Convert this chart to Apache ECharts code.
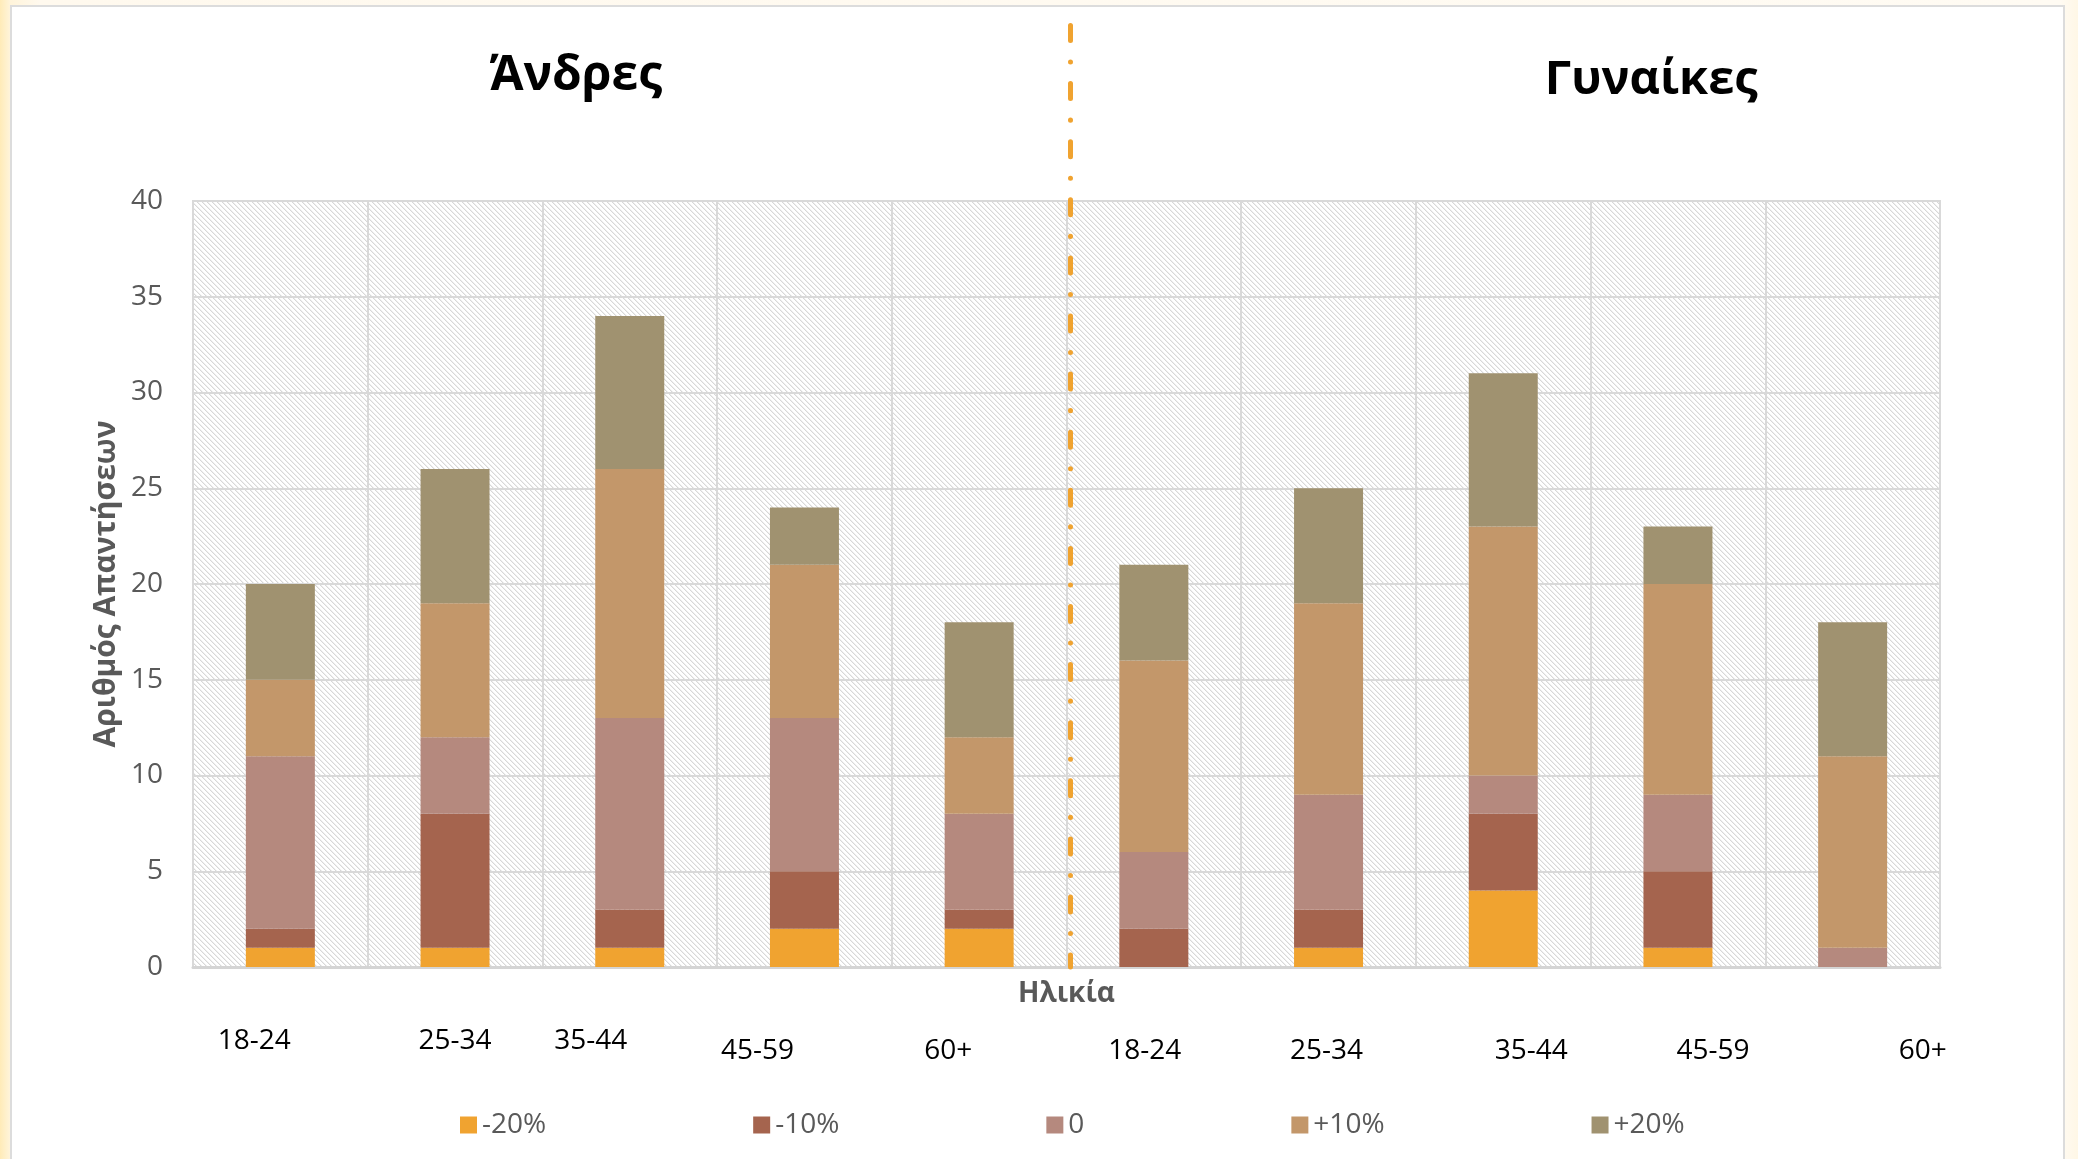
<!DOCTYPE html>
<html>
<head>
<meta charset="utf-8">
<script src="https://cdn.jsdelivr.net/npm/echarts@6/dist/echarts.min.js"></script>
<style>
  html, body { margin: 0; padding: 0; width: 2078px; height: 1159px; overflow: hidden; }
  body { background: linear-gradient(to right, #FFEBB8 0px, #FFF4DA 10px, #FFF9EE 40px, #FFFBF3 2060px, #FFF7E6 2078px); }
  #panel { position: absolute; left: 10px; top: 5px; width: 2051px; height: 1170px; background: #fff; border: 2px solid #dcdcdc; }
  #chart { position: absolute; left: 0; top: 0; width: 2078px; height: 1159px; }
</style>
</head>
<body>
<div id="panel"></div>
<div id="chart"></div>
<script>
// ---- data ----
const groupTitles = ['Άνδρες', 'Γυναίκες'];
const ageLabels = ['18-24', '25-34', '35-44', '45-59', '60+', '18-24', '25-34', '35-44', '45-59', '60+'];
const categories = ['Α 18-24', 'Α 25-34', 'Α 35-44', 'Α 45-59', 'Α 60+', 'Γ 18-24', 'Γ 25-34', 'Γ 35-44', 'Γ 45-59', 'Γ 60+'];
const seriesNames = ['-20%', '-10%', '0', '+10%', '+20%'];
const neg20 = [1, 1, 1, 2, 2, 0, 1, 4, 1, 0];
const neg10 = [1, 7, 2, 3, 1, 2, 2, 4, 4, 0];
const zero  = [9, 4, 10, 8, 5, 4, 6, 2, 4, 1];
const pos10 = [4, 7, 13, 8, 4, 10, 10, 13, 11, 10];
const pos20 = [5, 7, 8, 3, 6, 5, 6, 8, 3, 7];
const yTicks = { min: 0, max: 40, interval: 5 };
const yAxisName = 'Αριθμός Απαντήσεων';
const xAxisName = 'Ηλικία';

// ---- style ----
const colors = ['#F0A330', '#A5644E', '#B5897E', '#C3976A', '#A09270'];
const FONT = '"Open Sans", "Noto Sans", "DejaVu Sans", sans-serif';
// label shifts (layout only): [dx, dy]
const labelShift = [[-26, 0], [0, 0], [-39, 0], [-47, 10], [-31, 10], [-9, 10], [-2, 10], [28, 10], [35, 10], [70, 10]];

// hatch pattern for the plot area
const tile = document.createElement('canvas');
tile.width = 5; tile.height = 5;
const tc = tile.getContext('2d');
tc.fillStyle = '#ffffff'; tc.fillRect(0, 0, 5, 5);
tc.fillStyle = '#d8d8d8';
for (let i = 0; i < 5; i++) { tc.fillRect(i, i, 1, 1); }
tc.fillStyle = '#efefef';
for (let i = 0; i < 5; i++) { tc.fillRect((i + 1) % 5, i, 1, 1); }

const rich = {};
labelShift.forEach(([dx, dy], i) => {
  rich['s' + i] = {
    fontSize: 28, fontFamily: FONT, color: '#000',
    padding: [dy, dx < 0 ? -2 * dx : 0, 0, dx > 0 ? 2 * dx : 0]
  };
});

const chart = echarts.init(document.getElementById('chart'), null, { renderer: 'canvas' });
const dataArrays = [neg20, neg10, zero, pos10, pos20];

chart.setOption({
  backgroundColor: 'transparent',
  animation: false,
  textStyle: { fontFamily: FONT },
  grid: {
    left: 193, right: 138, top: 201, bottom: 192,
    show: true,
    backgroundColor: { image: tile, repeat: 'repeat' },
    borderColor: '#d9d9d9', borderWidth: 2
  },
  legend: {
    data: seriesNames,
    left: 455, top: 1106,
    itemWidth: 17, itemHeight: 17, itemGap: 207,
    icon: 'rect',
    textStyle: { fontSize: 28, color: '#595959', fontFamily: FONT }
  },
  xAxis: {
    type: 'category',
    data: categories,
    name: xAxisName,
    nameLocation: 'middle',
    nameGap: 13,
    nameMoveOverlap: false,
    nameTextStyle: { fontSize: 28, fontWeight: 'bold', color: '#595959', fontFamily: FONT, verticalAlign: 'top' },
    axisLine: { show: true, lineStyle: { color: '#d4d4d4', width: 3 } },
    axisTick: { show: false },
    splitLine: { show: true, interval: 0, lineStyle: { color: '#d9d9d9', width: 2 } },
    axisLabel: {
      interval: 0, margin: 60,
      formatter: (v, i) => '{s' + i + '|' + ageLabels[i] + '}',
      rich: rich
    }
  },
  yAxis: {
    type: 'value',
    min: yTicks.min, max: yTicks.max, interval: yTicks.interval,
    name: yAxisName,
    nameLocation: 'middle',
    nameGap: 72,
    nameMoveOverlap: false,
    nameTextStyle: { fontSize: 30, fontWeight: 'bold', color: '#595959', fontFamily: FONT },
    axisLine: { show: false },
    axisTick: { show: false },
    splitLine: { show: true, lineStyle: { color: '#d9d9d9', width: 2 } },
    axisLabel: { fontSize: 28, color: '#595959', margin: 30, fontFamily: FONT }
  },
  series: seriesNames.map((name, k) => ({
    name: name,
    type: 'bar',
    stack: 'total',
    barWidth: 69,
    itemStyle: { color: colors[k] },
    data: dataArrays[k]
  }))
});

// separator line and titles positioned from the axes
const xa = chart.convertToPixel({ xAxisIndex: 0 }, 4);
const xb = chart.convertToPixel({ xAxisIndex: 0 }, 5);
const y0 = chart.convertToPixel({ yAxisIndex: 0 }, 0);
const sepX = (xa + xb) / 2 + 4;
const menCenter = chart.convertToPixel({ xAxisIndex: 0 }, 2) - 54;
const womenCenter = chart.convertToPixel({ xAxisIndex: 0 }, 7) + 148;

chart.setOption({
  graphic: [
    {
      type: 'line', silent: true, z: 100,
      shape: { x1: sepX, y1: 25.5, x2: sepX, y2: y0 },
      style: { stroke: '#F0A330', lineWidth: 5, lineDash: [15, 21.5, 0.1, 21.5], lineCap: 'round' }
    },
    {
      type: 'text', silent: true,
      style: { text: groupTitles[0], x: menCenter, y: 76, textAlign: 'center', textVerticalAlign: 'middle',
               fontSize: 48, fontWeight: 'bold', fontFamily: FONT, fill: '#000' }
    },
    {
      type: 'text', silent: true,
      style: { text: groupTitles[1], x: womenCenter, y: 81, textAlign: 'center', textVerticalAlign: 'middle',
               fontSize: 47, fontWeight: 'bold', fontFamily: FONT, fill: '#000' }
    }
  ]
});
</script>
</body>
</html>
